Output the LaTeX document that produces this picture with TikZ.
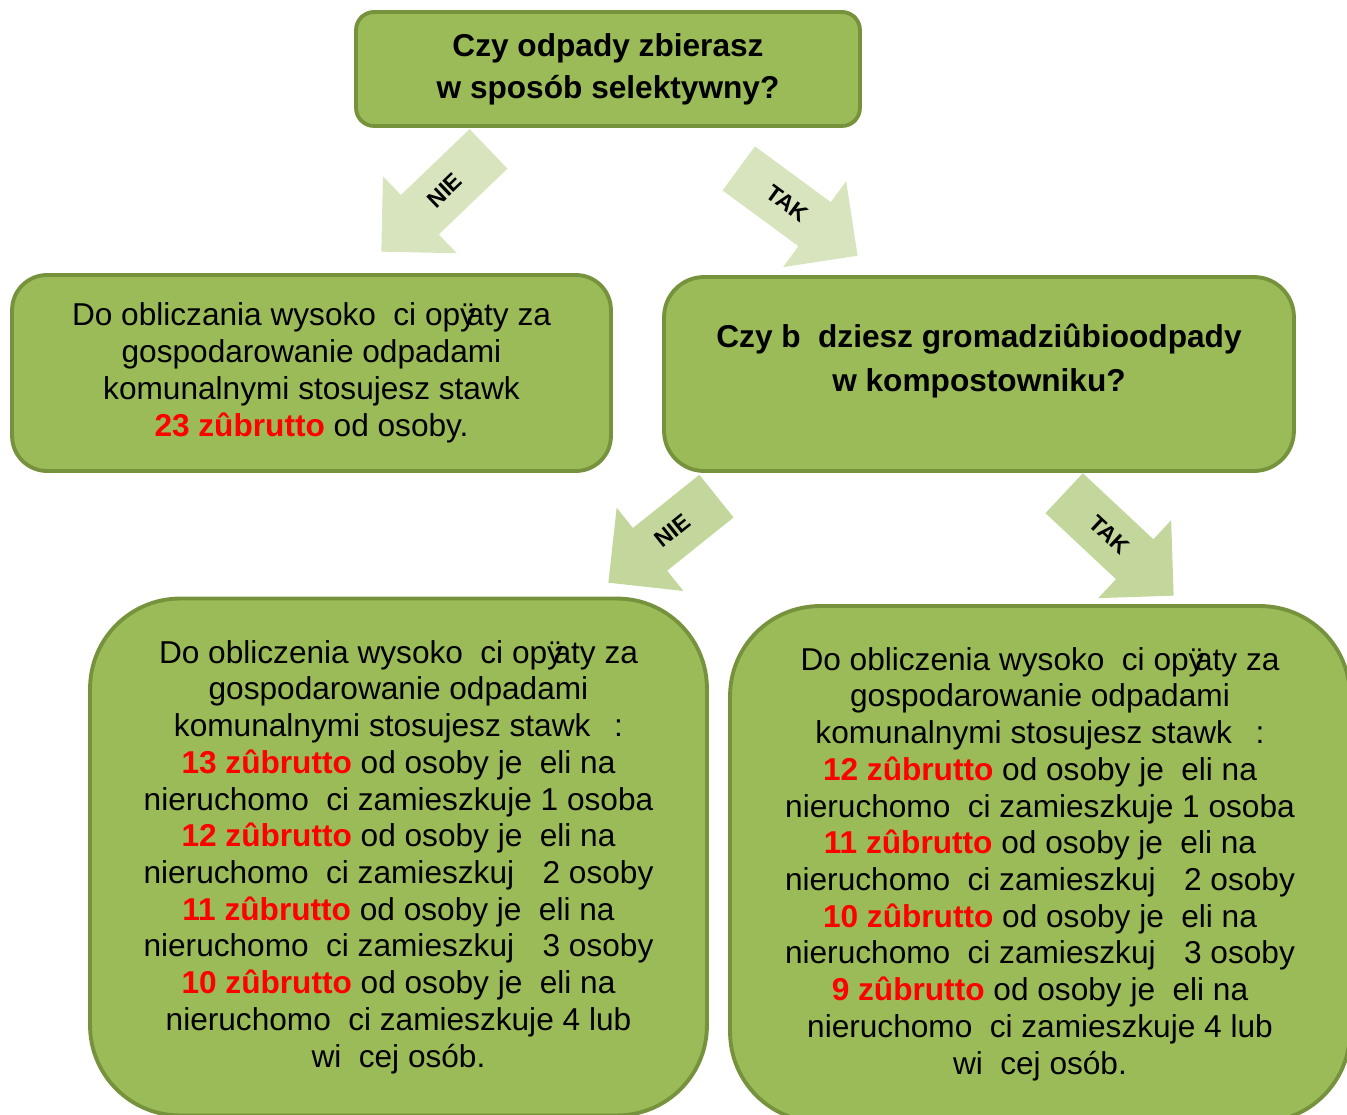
\documentclass[tikz,border=0pt]{standalone}
\usepackage{fontspec}
\setmainfont{Liberation Sans}
\usepackage{xcolor}
\usetikzlibrary{shapes,arrows,positioning,calc}

\definecolor{oliwka}{HTML}{9BBB59}
\definecolor{oliwkaRamka}{HTML}{76923C}
\definecolor{strzalkaJasna}{HTML}{D7E4BD}
\definecolor{strzalkaCiemna}{HTML}{C3D69B}
\definecolor{kwotaCzerwona}{HTML}{FF0000}

\newcommand{\przerwa}[1][0.55em]{\hspace{#1}}
\newcommand{\kwota}[1]{{\color{kwotaCzerwona}\bfseries #1 zûbrutto}}

\begin{document}
\begin{tikzpicture}[x=0.02cm, y=-0.02cm,
	pole/.style={rectangle, draw=oliwkaRamka, fill=oliwka, line width=2.2pt, align=center, inner sep=0pt},
	pytanie/.style={font=\bfseries\fontsize{18}{24}\selectfont},
	opis/.style={font=\fontsize{18}{21}\selectfont},
	strzalka/.style={single arrow, single arrow tip angle=90, single arrow head extend=0.52cm, minimum width=0pt, text height=0.3cm, text depth=0pt, inner xsep=0pt, inner ysep=0.39cm, font=\bfseries\fontsize{13}{15}\selectfont}]
	\useasboundingbox (0,0) rectangle (1347,1115);
	\clip (0,0) rectangle (1347,1115);

	\node[pole, pytanie, rounded corners=0.36cm, minimum width=10.08cm, minimum height=2.28cm] (selekcja) at (608,69) {\rule{0pt}{0.1cm}Czy odpady zbierasz\\w sposób selektywny?};
	\node[pole, opis, rounded corners=0.7cm, minimum width=11.98cm, minimum height=3.92cm] (stawka23) at (311.5,373) {Do obliczania wysoko\przerwa ci opÿ\kern-0.3em aty za\\gospodarowanie odpadami\\komunalnymi stosujesz stawk\przerwa\\\kwota{23} od osoby.};
	\node[pole, rounded corners=0.8cm, minimum width=12.6cm, minimum height=3.88cm] (kompost) at (979,374) {};
	\node[pytanie, font=\bfseries\fontsize{18}{25.5}\selectfont, align=center] (kompostTekst) at ([yshift=0.26cm]kompost.center) {Czy b\przerwa dziesz gromadziûbioodpady\\w kompostowniku?};

	\node[pole, opis, font=\fontsize{18}{20.9}\selectfont, rounded corners=1.8cm, minimum width=12.34cm, minimum height=10.34cm] (stawkaNie) at (398.5,857) {Do obliczenia wysoko\przerwa ci opÿ\kern-0.3em aty za\\gospodarowanie odpadami\\komunalnymi stosujesz stawk\przerwa[0.75em]:\\\kwota{13} od osoby je\przerwa eli na\\nieruchomo\przerwa ci zamieszkuje 1 osoba\\\kwota{12} od osoby je\przerwa eli na\\nieruchomo\przerwa ci zamieszkuj\przerwa[0.9em]2 osoby\\\kwota{11} od osoby je\przerwa eli na\\nieruchomo\przerwa ci zamieszkuj\przerwa[0.9em]3 osoby\\\kwota{10} od osoby je\przerwa eli na\\nieruchomo\przerwa ci zamieszkuje 4 lub\\wi\przerwa cej osób.};
	\node[pole, opis, font=\fontsize{18}{20.9}\selectfont, rounded corners=1.8cm, minimum width=12.4cm, minimum height=10.32cm] (stawkaTak) at (1040,864) {Do obliczenia wysoko\przerwa ci opÿ\kern-0.3em aty za\\gospodarowanie odpadami\\komunalnymi stosujesz stawk\przerwa[0.75em]:\\\kwota{12} od osoby je\przerwa eli na\\nieruchomo\przerwa ci zamieszkuje 1 osoba\\\kwota{11} od osoby je\przerwa eli na\\nieruchomo\przerwa ci zamieszkuj\przerwa[0.9em]2 osoby\\\kwota{10} od osoby je\przerwa eli na\\nieruchomo\przerwa ci zamieszkuj\przerwa[0.9em]3 osoby\\\kwota{9} od osoby je\przerwa eli na\\nieruchomo\przerwa ci zamieszkuje 4 lub\\wi\przerwa cej osób.};

	\node[strzalka, fill=strzalkaJasna, rotate=43.8, shape border rotate=180, minimum height=2.97cm, anchor=tip] (nie1) at (381,252) {NIE};
	\node[strzalka, fill=strzalkaJasna, rotate=-36.3, minimum height=2.95cm, anchor=tip] (tak1) at (858,256) {TAK};
	\node[strzalka, fill=strzalkaCiemna, rotate=38.7, shape border rotate=180, minimum height=2.77cm, anchor=tip] (nie2) at (608,583) {NIE};
	\node[strzalka, fill=strzalkaCiemna, rotate=-43.1, minimum height=3.0cm, anchor=tip] (tak2) at (1174,596) {TAK};
\end{tikzpicture}
\end{document}
